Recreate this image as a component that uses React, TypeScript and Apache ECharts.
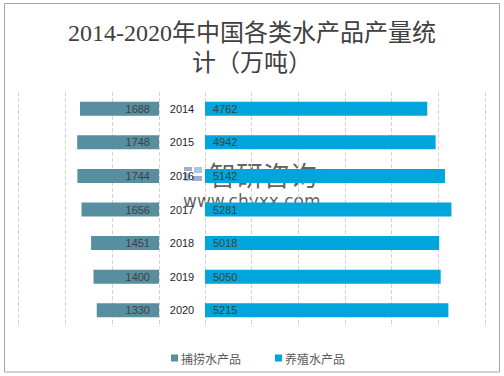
import React, { useEffect, useRef } from "react";
import * as echarts from "echarts";

const years = ["2014", "2015", "2016", "2017", "2018", "2019", "2020"];
const capture = [1688, 1748, 1744, 1656, 1451, 1400, 1330];
const culture = [4762, 4942, 5142, 5281, 5018, 5050, 5215];
const seriesNames = ["捕捞水产品", "养殖水产品"];
const titleText = "2014-2020年中国各类水产品产量统\n计（万吨）";

const leftColor = "#588fa0";
const rightColor = "#00a6db";
const numFont = "'Liberation Sans', 'Noto Sans', sans-serif";

export default function App() {
  const ref = useRef<HTMLDivElement>(null);
  useEffect(() => {
    if (!ref.current) return;
    const chart = echarts.init(ref.current, null, { renderer: "svg" });
    const splitLine = { show: true, lineStyle: { color: "#d6d0dc", type: "dashed" as const, width: 1 } };
    chart.setOption({
      animation: false,
      backgroundColor: "#ffffff",
      title: {
        text: titleText,
        left: "center",
        top: 13,
        textStyle: {
          fontFamily: "'Liberation Serif', 'Noto Sans CJK SC', serif",
          fontSize: 24,
          fontWeight: "normal",
          color: "#404040",
          lineHeight: 30,
        },
      },
      legend: {
        left: 166,
        top: 347,
        itemWidth: 7,
        itemHeight: 7,
        itemGap: 34,
        icon: "rect",
        data: seriesNames,
        textStyle: {
          fontFamily: "'Noto Sans CJK SC', sans-serif",
          fontSize: 12,
          color: "#595959",
          padding: [0, 0, 0, -2],
        },
      },
      grid: [
        { left: 18.6, right: 345, top: 92, height: 235 },
        { left: 205, right: 19, top: 92, height: 235 },
      ],
      xAxis: [
        {
          type: "value",
          gridIndex: 0,
          inverse: true,
          min: 0,
          max: 3000,
          interval: 1000,
          axisLabel: { show: false },
          axisLine: { show: false },
          axisTick: { show: false },
          splitLine,
        },
        {
          type: "value",
          gridIndex: 1,
          min: 0,
          max: 6000,
          interval: 1000,
          axisLabel: { show: false },
          axisLine: { show: false },
          axisTick: { show: false },
          splitLine,
        },
      ],
      yAxis: [
        {
          type: "category",
          gridIndex: 0,
          inverse: true,
          data: years,
          axisLabel: { show: false },
          axisLine: { show: false },
          axisTick: { show: false },
        },
        {
          type: "category",
          gridIndex: 1,
          inverse: true,
          data: years,
          position: "left",
          axisLine: { show: false },
          axisTick: { show: false },
          axisLabel: {
            show: true,
            align: "center",
            margin: 23,
            fontFamily: numFont,
            fontSize: 11,
            color: "#262626",
          },
        },
      ],
      series: [
        {
          name: seriesNames[0],
          type: "bar",
          xAxisIndex: 0,
          yAxisIndex: 0,
          data: capture,
          barWidth: 14,
          itemStyle: { color: leftColor },
          label: {
            show: true,
            position: "insideRight",
            distance: 9,
            fontFamily: numFont,
            fontSize: 11,
            color: "#404040",
          },
        },
        {
          name: seriesNames[1],
          type: "bar",
          xAxisIndex: 1,
          yAxisIndex: 1,
          data: culture,
          barWidth: 14,
          itemStyle: { color: rightColor },
          label: {
            show: true,
            position: "insideLeft",
            distance: 8,
            fontFamily: numFont,
            fontSize: 11,
            color: "#404040",
          },
        },
      ],
      graphic: [
        {
          type: "rect",
          shape: { x: 4.5, y: 3.5, width: 495, height: 368.5 },
          style: { fill: "none", stroke: "#a6a6a6", lineWidth: 1 },
          silent: true,
          z: 100,
        },
        {
          type: "group",
          z: 100,
          silent: true,
          children: [
            { type: "rect", shape: { x: 184, y: 167, width: 8, height: 4 }, style: { fill: "#7f93bf", opacity: 0.75 } },
            { type: "rect", shape: { x: 194, y: 167, width: 8, height: 6 }, style: { fill: "#8fb0d8", opacity: 0.75 } },
            { type: "rect", shape: { x: 184, y: 173, width: 6, height: 8 }, style: { fill: "#8fb0d8", opacity: 0.75 } },
            { type: "rect", shape: { x: 192, y: 176, width: 10, height: 5 }, style: { fill: "#7f93bf", opacity: 0.75 } },
            {
              type: "text",
              x: 209,
              y: 174,
              style: {
                text: "智研咨询",
                fontFamily: "'Noto Sans CJK SC', sans-serif",
                fontSize: 27,
                fill: "#4d4d4d",
                opacity: 0.9,
                textVerticalAlign: "middle",
                textBorderColor: "rgba(255,255,255,0.5)",
                textBorderWidth: 2,
              },
            },
            {
              type: "text",
              x: 183,
              y: 201,
              style: {
                text: "www.chyxx.com",
                fontFamily: "'DejaVu Sans', sans-serif",
                fontSize: 17,
                fill: "#4d4d4d",
                opacity: 0.9,
                textVerticalAlign: "middle",
                textBorderColor: "rgba(255,255,255,0.5)",
                textBorderWidth: 2,
              },
            },
          ],
        },
      ],
    });
    return () => chart.dispose();
  }, []);
  return (
    <div
      ref={ref}
      style={{ position: "fixed", left: 0, top: 0, width: 504, height: 376 }}
    />
  );
}
